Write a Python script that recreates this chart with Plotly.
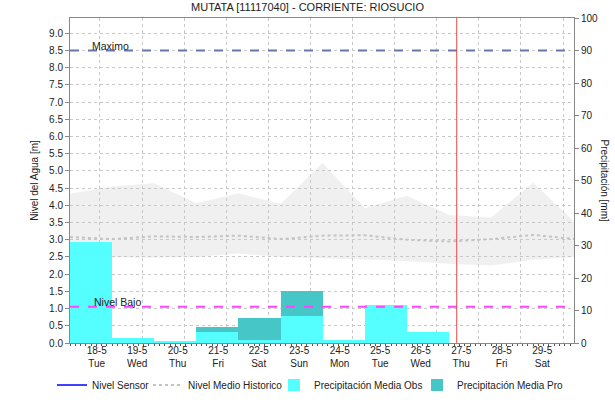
import plotly.graph_objects as go

# ---- data ----
day_labels = ["18-5<br>Tue", "19-5<br>Wed", "20-5<br>Thu", "21-5<br>Fri", "22-5<br>Sat", "23-5<br>Sun",
              "24-5<br>Mon", "25-5<br>Tue", "26-5<br>Wed", "27-5<br>Thu", "28-5<br>Fri", "29-5<br>Sat"]
bar_days = [0, 1, 2, 3, 4, 5, 6, 7, 8]
precip_obs = [31.0, 1.6, 0.45, 3.3, 1.0, 8.2, 0.9, 11.6, 3.5]
precip_pro = [0.0, 0.0, 0.0, 4.8, 7.6, 16.1, 0.0, 0.0, 0.0]

hist_x = [0, 1, 2, 3, 4, 5, 6, 7, 8, 9, 10, 11, 12]
hist_upper = [4.34, 4.55, 4.64, 4.06, 4.35, 4.04, 5.23, 3.92, 4.28, 3.72, 3.65, 4.66, 3.50]
hist_lower = [2.50, 2.48, 2.48, 2.50, 2.60, 2.50, 2.47, 2.43, 2.38, 2.30, 2.25, 2.42, 2.50]
hist_median = [3.08, 3.02, 3.10, 3.08, 3.12, 3.02, 3.12, 3.13, 3.00, 2.95, 3.02, 3.14, 3.02]

nivel_maximo = 8.5
nivel_bajo = 1.05
now_pos = 9.185

FONT = "Liberation Sans, Arial, sans-serif"
GRID = "#c8c8c8"

fig = go.Figure()

bar_x = [d + 0.5 for d in bar_days]
fig.add_trace(go.Bar(x=bar_x, y=precip_pro, width=1.0, marker=dict(color="#46c6c6", line=dict(width=0)),
                     name="Precipitación Media Pro", yaxis="y2", legend="legend4"))
fig.add_trace(go.Bar(x=bar_x, y=precip_obs, width=1.0, marker=dict(color="#55ffff", line=dict(width=0)),
                     name="Precipitación Media Obs", yaxis="y2", legend="legend3"))

fig.add_trace(go.Scatter(x=hist_x, y=hist_lower, mode="lines", line=dict(width=0), showlegend=False,
                         hoverinfo="skip"))
fig.add_trace(go.Scatter(x=hist_x, y=hist_upper, mode="lines", line=dict(width=0), fill="tonexty",
                         fillcolor="rgba(200,200,200,0.27)", showlegend=False, hoverinfo="skip"))
fig.add_trace(go.Scatter(x=hist_x, y=hist_median, mode="lines", line=dict(color="#c4c4c4", width=2, dash="dot"),
                         name="Nivel Medio Historico", legend="legend2"))
fig.add_trace(go.Scatter(x=[None], y=[None], mode="lines", line=dict(color="#0000ff", width=1.5),
                         name="Nivel Sensor", legend="legend"))

# threshold lines
fig.add_shape(type="line", xref="x", yref="y", x0=0, x1=11.97, y0=nivel_maximo, y1=nivel_maximo,
              line=dict(color="#6677aa", width=2, dash="dash"), layer="above")
fig.add_shape(type="line", xref="x", yref="y", x0=0, x1=11.97, y0=nivel_bajo, y1=nivel_bajo,
              line=dict(color="#ff44ff", width=2, dash="dash"), layer="above")
fig.add_shape(type="line", xref="x", yref="paper", x0=now_pos, x1=now_pos, y0=0, y1=1,
              line=dict(color="#e04848", width=1), layer="above")

fig.add_annotation(x=0.48, y=nivel_maximo, xref="x", yref="y", text="Maximo", showarrow=False,
                   xanchor="left", yanchor="bottom", yshift=-3, font=dict(family=FONT, size=10.5, color="#222"))
fig.add_annotation(x=0.52, y=nivel_bajo, xref="x", yref="y", text="Nivel Bajo", showarrow=False,
                   xanchor="left", yanchor="bottom", yshift=-3, font=dict(family=FONT, size=10.5, color="#222"))
fig.add_annotation(x=1.0, y=0.5, xref="paper", yref="paper", text="Precipitación [mm]", showarrow=False,
                   textangle=90, xanchor="center", yanchor="middle", xshift=30,
                   font=dict(family=FONT, size=10, color="#222"))

legend_common = dict(orientation="h", xref="container", yref="container", xanchor="left",
                     y=(403 - 385) / 403, yanchor="middle", bgcolor="rgba(0,0,0,0)",
                     font=dict(family=FONT, size=10, color="#222"), traceorder="normal",
                     itemwidth=30, tracegroupgap=0)

grid_vals = [0.71 + k for k in range(12)]
fig.update_layout(
    width=615, height=403,
    margin=dict(l=70, r=41, t=18, b=60, autoexpand=False),
    paper_bgcolor="white", plot_bgcolor="white",
    font=dict(family=FONT, size=10, color="#222"),
    title=dict(text="MUTATA [11117040] - CORRIENTE: RIOSUCIO", x=0.5, xanchor="center", y=0.983,
               yanchor="middle", font=dict(family=FONT, size=11, color="#222")),
    barmode="overlay", bargap=0,
    showlegend=True,
    legend=dict(x=52 / 615, **legend_common),
    legend2=dict(x=148 / 615, **legend_common),
    legend3=dict(x=274 / 615, **legend_common),
    legend4=dict(x=417 / 615, **legend_common),
    xaxis=dict(range=[0, 11.97], tickvals=grid_vals, showticklabels=False, ticks="",
               showgrid=True, gridcolor=GRID, griddash="dot", gridwidth=1, automargin=False,
               showline=True, linecolor="#888", linewidth=1, mirror=True, zeroline=False,
               minor=dict(ticks="outside", ticklen=2, tickcolor="#555", dtick=0.125, tick0=0, showgrid=False)),
    xaxis2=dict(overlaying="x", side="bottom", range=[-0.659, 11.785], tickmode="array", automargin=False,
                tickvals=list(range(len(day_labels))), ticktext=day_labels, showgrid=False,
                showline=False, ticks="", zeroline=False, tickfont=dict(size=10, color="#222")),
    yaxis=dict(range=[0, nivel_maximo / 0.9], dtick=0.5, tick0=0, tickformat=".1f", automargin=False,
               showgrid=True, gridcolor=GRID, griddash="dot", gridwidth=1,
               showline=True, linecolor="#888", linewidth=1, ticks="outside", ticklen=4, tickcolor="#888",
               zeroline=False, title=dict(text="Nivel del Agua [m]", font=dict(size=10, color="#222"), standoff=8)),
    yaxis2=dict(overlaying="y", side="right", range=[0, 100], dtick=10, tick0=0, automargin=False,
                showgrid=False, showline=True, linecolor="#888", linewidth=1, ticks="outside", ticklen=4,
                tickcolor="#888", zeroline=False),
)

# dummy trace to activate xaxis2 tick labels
fig.add_trace(go.Scatter(x=[0], y=[0], xaxis="x2", mode="markers", marker=dict(opacity=0), showlegend=False,
                         hoverinfo="skip"))

fig.write_html("out.html", config={"displayModeBar": False},
               post_script="document.body.style.margin='0';")
